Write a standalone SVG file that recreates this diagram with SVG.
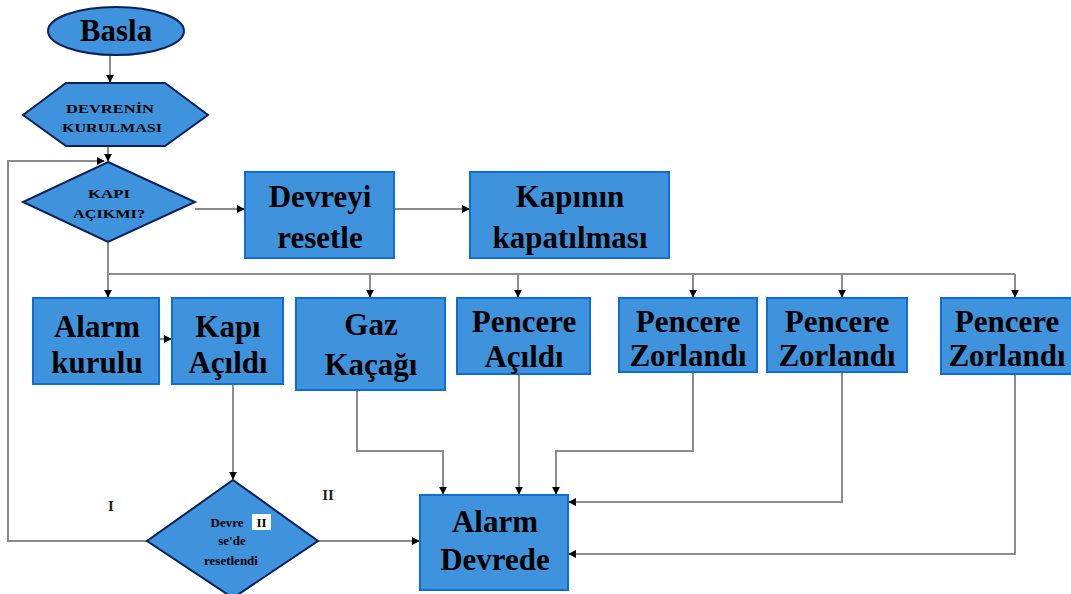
<svg xmlns="http://www.w3.org/2000/svg" width="1071" height="594" viewBox="0 0 1071 594">
<style>
.box{fill:#3f93dc;stroke:#0d6fd6;stroke-width:2}
.shape{fill:#3f93dc;stroke:#0a1f5c;stroke-width:2}
.big{font-family:"Liberation Serif",serif;font-weight:bold;font-size:31px;fill:#000;text-anchor:middle}
.small{font-family:"Liberation Serif",serif;font-weight:bold;font-size:13px;fill:#000;text-anchor:middle}
.lbl{font-family:"Liberation Serif",serif;font-weight:bold;font-size:15px;fill:#222;text-anchor:middle}
.ln{fill:none;stroke:#8c8c8c;stroke-width:2}
</style>
<defs>
<marker id="ah" viewBox="0 0 10 10" refX="9" refY="5" markerWidth="8" markerHeight="8" orient="auto" markerUnits="userSpaceOnUse">
<path d="M0,0 L10,5 L0,10 z" fill="#000"/>
</marker>
</defs>
<rect width="1071" height="594" fill="#fff"/>

<g id="connectors">
<line class="ln" x1="110" y1="55" x2="110" y2="82" marker-end="url(#ah)"/>
<line class="ln" x1="108" y1="146" x2="108" y2="161" marker-end="url(#ah)"/>
<polyline class="ln" points="147,541 8,541 8,161 104,161" marker-end="url(#ah)"/>
<line class="ln" x1="195" y1="209" x2="244" y2="209" marker-end="url(#ah)"/>
<line class="ln" x1="394" y1="209" x2="469" y2="209" marker-end="url(#ah)"/>
<line class="ln" x1="108" y1="243" x2="108" y2="274" stroke="#ccc"/>
<line class="ln" x1="108" y1="274" x2="1015" y2="274"/>
<line class="ln" x1="108" y1="274" x2="108" y2="297" marker-end="url(#ah)"/>
<line class="ln" x1="370" y1="274" x2="370" y2="297" marker-end="url(#ah)"/>
<line class="ln" x1="518" y1="274" x2="518" y2="297" marker-end="url(#ah)"/>
<line class="ln" x1="693" y1="274" x2="693" y2="297" marker-end="url(#ah)"/>
<line class="ln" x1="842" y1="274" x2="842" y2="297" marker-end="url(#ah)"/>
<line class="ln" x1="1015" y1="274" x2="1015" y2="297" marker-end="url(#ah)"/>
<line class="ln" x1="159" y1="339" x2="171" y2="339" marker-end="url(#ah)"/>
<line class="ln" x1="233" y1="384" x2="233" y2="479" stroke="#bbb" marker-end="url(#ah)"/>
<polyline class="ln" points="357,390 357,451 443,451 443,494" marker-end="url(#ah)"/>
<line class="ln" x1="519" y1="374" x2="519" y2="494" marker-end="url(#ah)"/>
<polyline class="ln" points="693,372 693,451 556,451 556,494" marker-end="url(#ah)"/>
<polyline class="ln" points="842,372 842,502 569,502" marker-end="url(#ah)"/>
<polyline class="ln" points="1015,374 1015,554 569,554" marker-end="url(#ah)"/>
<line class="ln" x1="318" y1="541" x2="419" y2="541" marker-end="url(#ah)"/>
</g>

<g id="basla">
<ellipse class="shape" cx="116" cy="31" rx="68" ry="24" stroke="#1a7fe0"/>
<text class="big" x="116" y="41" font-size="24">Basla</text>
</g>

<g id="devrenin-kurulmasi">
<polygon class="shape" points="23,115 66,83 165,83 208,115 165,146 66,146"/>
<text class="small" x="110" y="113" textLength="88" lengthAdjust="spacingAndGlyphs">DEVRENİN</text>
<text class="small" x="112" y="132" textLength="100" lengthAdjust="spacingAndGlyphs">KURULMASI</text>
</g>

<g id="kapi-acikmi">
<polygon class="shape" points="108,162 195,202 108,242 23,202"/>
<text class="small" x="109" y="198" font-size="14" textLength="42" lengthAdjust="spacingAndGlyphs">KAPI</text>
<text class="small" x="109" y="218" font-size="14" textLength="72" lengthAdjust="spacingAndGlyphs">AÇIKMI?</text>
</g>

<g id="devreyi-resetle">
<rect class="box" x="245" y="172" width="149" height="86"/>
<text class="big" x="320" y="207">Devreyi</text>
<text class="big" x="320" y="248">resetle</text>
</g>

<g id="kapinin-kapatilmasi">
<rect class="box" x="470" y="172" width="199" height="86"/>
<text class="big" x="570" y="207">Kapının</text>
<text class="big" x="570" y="248">kapatılması</text>
</g>

<g id="alarm-kurulu">
<rect class="box" x="33" y="298" width="126" height="86"/>
<text class="big" x="97" y="337">Alarm</text>
<text class="big" x="97" y="373">kurulu</text>
</g>

<g id="kapi-acildi">
<rect class="box" x="172" y="298" width="111" height="86"/>
<text class="big" x="228" y="337">Kapı</text>
<text class="big" x="228" y="373">Açıldı</text>
</g>

<g id="gaz-kacagi">
<rect class="box" x="296" y="298" width="149" height="92"/>
<text class="big" x="371" y="335">Gaz</text>
<text class="big" x="371" y="375">Kaçağı</text>
</g>

<g id="pencere-acildi">
<rect class="box" x="457" y="298" width="133" height="76"/>
<text class="big" x="524" y="332">Pencere</text>
<text class="big" x="524" y="367">Açıldı</text>
</g>

<g id="pencere-zorlandi-1">
<rect class="box" x="619" y="298" width="138" height="74"/>
<text class="big" x="688" y="332">Pencere</text>
<text class="big" x="688" y="366">Zorlandı</text>
</g>

<g id="pencere-zorlandi-2">
<rect class="box" x="767" y="298" width="140" height="74"/>
<text class="big" x="837" y="332">Pencere</text>
<text class="big" x="837" y="366">Zorlandı</text>
</g>

<g id="pencere-zorlandi-3">
<rect class="box" x="941" y="298" width="132" height="76"/>
<text class="big" x="1007" y="332">Pencere</text>
<text class="big" x="1007" y="366">Zorlandı</text>
</g>

<g id="devre-resetlendi">
<polygon class="shape" points="233,480 318,541 233,598 147,541"/>
<text class="small" x="227" y="527" font-size="12">Devre</text>
<rect x="252" y="514" width="19" height="16" fill="#fff"/>
<text class="small" x="261.5" y="527" font-size="12">II</text>
<text class="small" x="232" y="545" font-size="12">se'de</text>
<text class="small" x="231" y="565" font-size="12">resetlendi</text>
</g>

<g id="alarm-devrede">
<rect class="box" x="420" y="495" width="148" height="95"/>
<text class="big" x="495" y="532">Alarm</text>
<text class="big" x="495" y="570">Devrede</text>
</g>

<g id="labels">
<text class="lbl" x="111" y="511">I</text>
<text class="lbl" x="328" y="500">II</text>
</g>
</svg>
